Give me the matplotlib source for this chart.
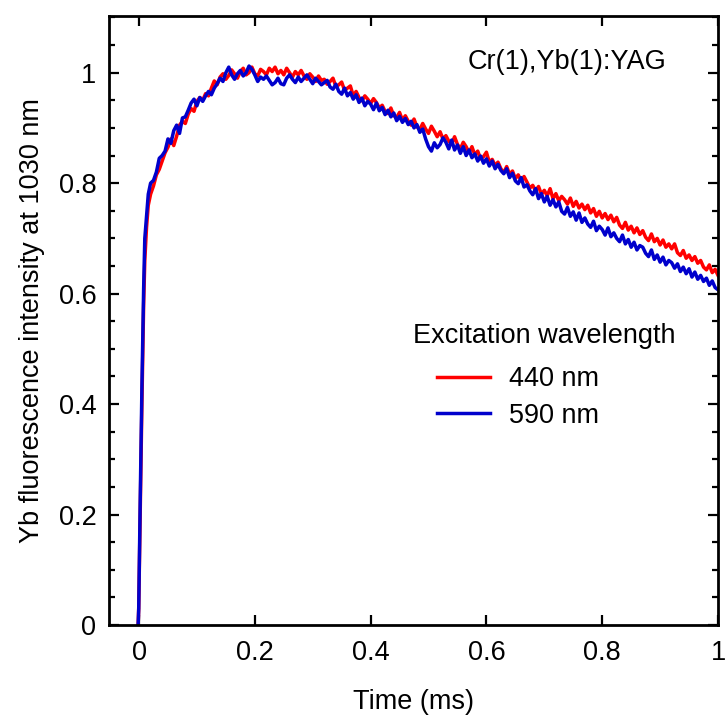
import matplotlib
matplotlib.use("Agg")
import matplotlib.pyplot as plt
from matplotlib.ticker import MultipleLocator
import numpy as np

plt.rcParams['font.family'] = ['Liberation Sans', 'DejaVu Sans']

# rise part (ms)
t_early = [-0.0015, -0.0005, 0.002, 0.005, 0.008, 0.010, 0.013, 0.016]
red_early = [0.0, 0.03, 0.20, 0.40, 0.58, 0.66, 0.72, 0.76]
blue_early = [0.0, 0.03, 0.22, 0.43, 0.61, 0.70, 0.74, 0.78]

# sampled every 5 us from 0.02 to 1.0 ms
t_main = np.linspace(0.02, 1.0, 197)
red_main = [
    0.780, 0.795, 0.815, 0.825, 0.840, 0.855, 0.865, 0.880, 0.868, 0.885,
    0.905, 0.912, 0.908, 0.925, 0.935, 0.930, 0.948, 0.955, 0.950, 0.962,
    0.958, 0.972, 0.985, 0.978, 0.992, 0.998, 0.988, 0.995, 1.005, 0.998,
    0.990, 1.002, 1.008, 0.996, 1.000, 1.010, 0.998, 0.994, 1.006, 1.002,
    0.996, 1.008, 1.002, 1.010, 0.998, 1.004, 0.996, 1.008, 1.000, 0.992,
    1.002, 0.996, 1.004, 0.994, 0.988, 0.998, 0.992, 0.984, 0.994, 0.986,
    0.988, 0.979, 0.984, 0.990, 0.975, 0.978, 0.983, 0.968, 0.972, 0.976,
    0.958, 0.966, 0.955, 0.949, 0.958, 0.952, 0.944, 0.953, 0.946, 0.936,
    0.941, 0.930, 0.926, 0.936, 0.922, 0.919, 0.928, 0.914, 0.922, 0.912,
    0.905, 0.916, 0.902, 0.897, 0.908, 0.898, 0.890, 0.903, 0.894, 0.884,
    0.893, 0.880, 0.886, 0.876, 0.871, 0.884, 0.870, 0.862, 0.874, 0.866,
    0.855, 0.866, 0.851, 0.858, 0.844, 0.848, 0.856, 0.838, 0.843, 0.832,
    0.838, 0.826, 0.819, 0.830, 0.816, 0.822, 0.808, 0.815, 0.804, 0.812,
    0.802, 0.791, 0.796, 0.786, 0.794, 0.780, 0.787, 0.777, 0.790, 0.772,
    0.781, 0.768, 0.776, 0.770, 0.762, 0.773, 0.758, 0.767, 0.755, 0.762,
    0.752, 0.760, 0.746, 0.754, 0.740, 0.749, 0.737, 0.745, 0.734, 0.742,
    0.730, 0.738, 0.724, 0.718, 0.729, 0.715, 0.722, 0.710, 0.719, 0.707,
    0.714, 0.702, 0.696, 0.708, 0.694, 0.700, 0.688, 0.697, 0.684, 0.690,
    0.681, 0.690, 0.674, 0.669, 0.678, 0.664, 0.670, 0.660, 0.667, 0.655,
    0.660, 0.648, 0.643, 0.652, 0.638, 0.644, 0.633,
]
blue_main = [
    0.800, 0.805, 0.820, 0.845, 0.850, 0.858, 0.880, 0.872, 0.895, 0.905,
    0.890, 0.918, 0.920, 0.932, 0.945, 0.952, 0.940, 0.955, 0.948, 0.958,
    0.966, 0.960, 0.972, 0.980, 0.990, 0.984, 1.000, 1.010, 0.996, 0.988,
    0.998, 1.004, 0.994, 1.000, 1.012, 1.006, 0.996, 0.984, 0.992, 0.988,
    0.994, 0.986, 0.978, 0.982, 0.990, 0.980, 0.978, 0.990, 0.996, 0.988,
    0.982, 0.992, 0.984, 0.990, 0.996, 0.988, 0.980, 0.990, 0.984, 0.978,
    0.982, 0.986, 0.974, 0.970, 0.979, 0.966, 0.961, 0.972, 0.958, 0.964,
    0.952, 0.960, 0.946, 0.954, 0.940, 0.948, 0.943, 0.933, 0.945, 0.931,
    0.937, 0.924, 0.932, 0.920, 0.927, 0.913, 0.921, 0.910, 0.917, 0.906,
    0.912, 0.900, 0.906, 0.892, 0.898, 0.880, 0.866, 0.858, 0.873, 0.864,
    0.870, 0.882, 0.874, 0.862, 0.878, 0.860, 0.869, 0.854, 0.866, 0.850,
    0.860, 0.846, 0.853, 0.840, 0.849, 0.836, 0.844, 0.831, 0.840, 0.826,
    0.834, 0.823, 0.817, 0.826, 0.810, 0.818, 0.804, 0.799, 0.810, 0.793,
    0.797, 0.786, 0.779, 0.790, 0.772, 0.781, 0.766, 0.776, 0.760, 0.770,
    0.757, 0.766, 0.749, 0.744, 0.756, 0.740, 0.748, 0.733, 0.746, 0.729,
    0.737, 0.726, 0.720, 0.731, 0.714, 0.722, 0.716, 0.706, 0.719, 0.703,
    0.710, 0.700, 0.694, 0.706, 0.690, 0.698, 0.684, 0.693, 0.679, 0.687,
    0.684, 0.673, 0.667, 0.679, 0.662, 0.670, 0.657, 0.666, 0.652, 0.660,
    0.656, 0.646, 0.654, 0.640, 0.648, 0.636, 0.645, 0.630, 0.639, 0.626,
    0.633, 0.622, 0.628, 0.615, 0.623, 0.611, 0.607,
]

t = np.concatenate([t_early, t_main])
red = np.concatenate([red_early, red_main])
blue = np.concatenate([blue_early, blue_main])

fs = 19.5
fig = plt.figure(figsize=(7.26, 7.16), dpi=100)
ax = fig.add_axes([0.150, 0.127, 0.839, 0.851])

ax.plot(t, red, color='#ff0000', lw=2.5, label='440 nm')
ax.plot(t, blue, color='#0000cc', lw=2.5, label='590 nm')

ax.set_xlim(-0.052, 1.0)
ax.set_ylim(0, 1.103)
ax.yaxis.set_minor_locator(MultipleLocator(0.05))
ax.set_xticks([0, 0.2, 0.4, 0.6, 0.8, 1.0])
ax.set_xticklabels(['0', '0.2', '0.4', '0.6', '0.8', '1'])
ax.set_yticks([0, 0.2, 0.4, 0.6, 0.8, 1.0])
ax.set_yticklabels(['0', '0.2', '0.4', '0.6', '0.8', '1'])

ax.tick_params(which='both', direction='in', top=True, right=True, width=1.6)
ax.tick_params(which='major', length=7, labelsize=fs)
ax.tick_params(axis='x', which='major', pad=11)
ax.tick_params(axis='y', which='major', pad=9)
ax.tick_params(which='minor', length=4)
for s in ax.spines.values():
    s.set_linewidth(2.0)

ax.set_xlabel('Time (ms)', fontsize=fs, labelpad=16)
ax.set_ylabel('Yb fluorescence intensity at 1030 nm', fontsize=fs, labelpad=10)

ax.text(0.916, 0.924, 'Cr(1),Yb(1):YAG', transform=ax.transAxes,
        ha='right', va='center', fontsize=fs)
ax.text(0.50, 0.474, 'Excitation wavelength', transform=ax.transAxes,
        ha='left', va='center', fontsize=fs)
ax.legend(loc='upper left', bbox_to_anchor=(0.5386, 0.425), frameon=False,
          fontsize=fs, handlelength=1.95, handletextpad=0.7,
          labelspacing=0.4, borderpad=0, borderaxespad=0)

fig.savefig('out.png', dpi=100)
